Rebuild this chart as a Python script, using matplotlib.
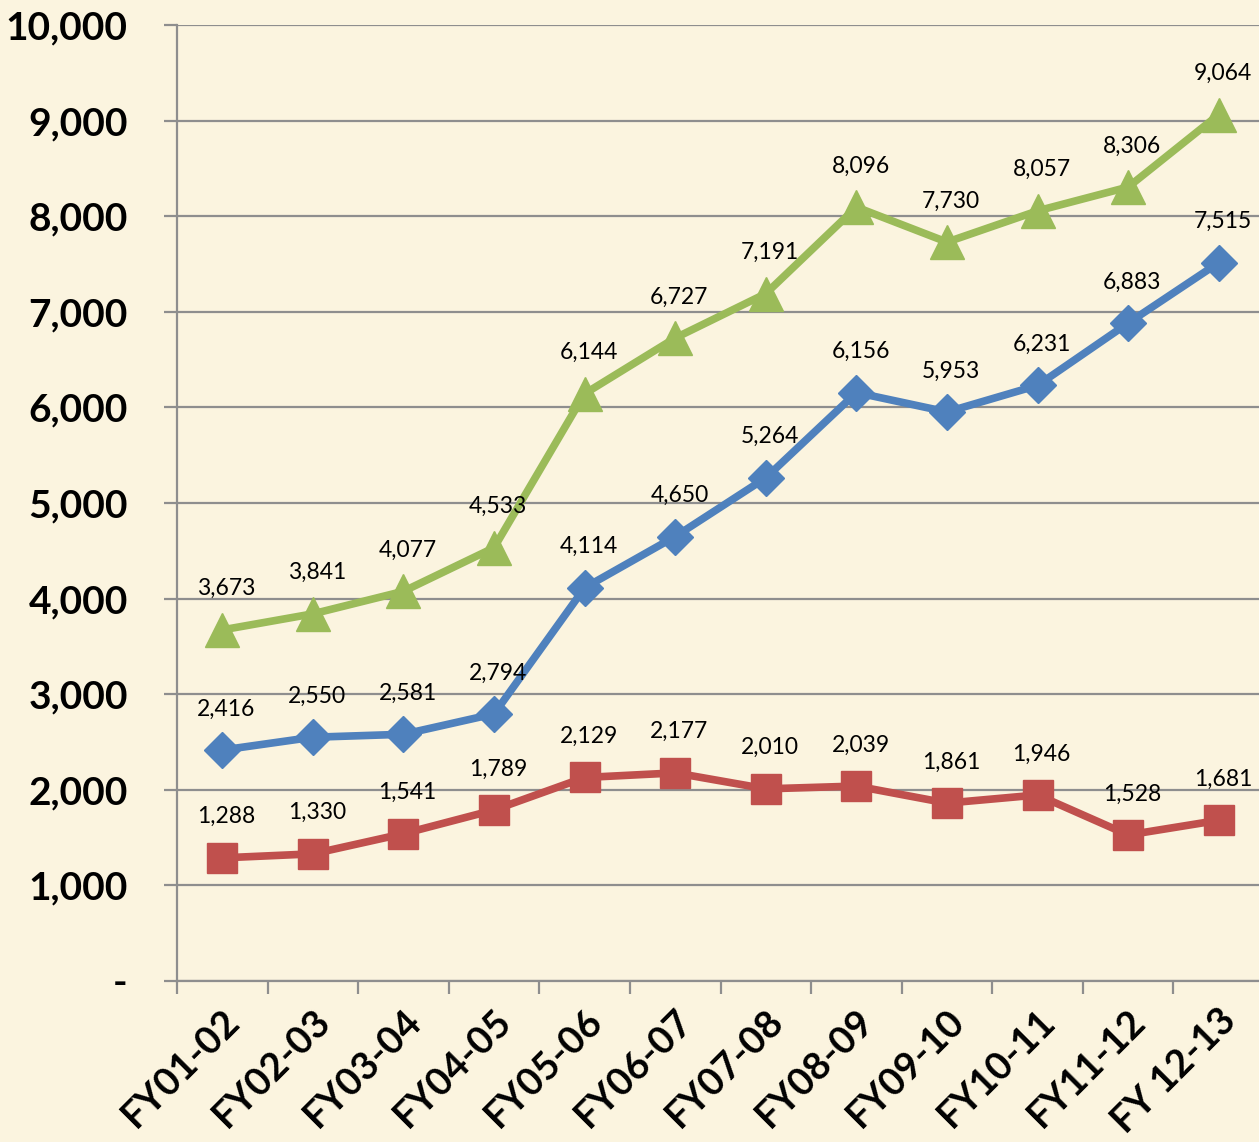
import matplotlib
matplotlib.use("Agg")
import matplotlib.pyplot as plt
from matplotlib.ticker import FixedLocator, FuncFormatter

plt.rcParams['font.family'] = ['Lato', 'DejaVu Sans']

# chart data
years = ['FY01-02', 'FY02-03', 'FY03-04', 'FY04-05', 'FY05-06', 'FY06-07',
         'FY07-08', 'FY08-09', 'FY09-10', 'FY10-11', 'FY11-12', 'FY 12-13']
blue_vals = [2416, 2550, 2581, 2794, 4114, 4650, 5264, 6156, 5953, 6231, 6883, 7515]
red_vals = [1288, 1330, 1541, 1789, 2129, 2177, 2010, 2039, 1861, 1946, 1528, 1681]
green_vals = [3673, 3841, 4077, 4533, 6144, 6727, 7191, 8096, 7730, 8057, 8306, 9064]

bg = '#FBF4DF'
grid_col = '#8E8E8E'

fig = plt.figure(figsize=(12.59, 11.42), dpi=100, facecolor=bg)
ax = fig.add_axes([0.1406, 0.141, 0.8634, 0.837])
ax.set_facecolor(bg)

x = list(range(len(years)))

series = [
    (green_vals, '#9BBB59', '^', 24),
    (blue_vals, '#4F81BD', 'D', 18),
    (red_vals, '#C0504D', 's', 21),
]
for vals, col, mk, ms in series:
    ax.plot(x, vals, color=col, lw=5.5, marker=mk, markersize=ms,
            markeredgecolor=col, zorder=3, solid_joinstyle='round')
    for xi, v in zip(x, vals):
        ax.annotate(f'{v:,}', (xi, v), xytext=(3, 22), textcoords='offset points',
                    ha='center', va='bottom', fontsize=16.5, color='black', zorder=4)

ax.set_xlim(-0.5, 11.5)
ax.set_ylim(0, 10000)

ax.yaxis.set_major_locator(FixedLocator(range(0, 10001, 1000)))
ax.yaxis.set_major_formatter(FuncFormatter(lambda v, p: '-' if v == 0 else f'{int(v):,}'))
ax.grid(axis='y', color=grid_col, lw=1.6, zorder=1)
ax.tick_params(axis='y', length=9.5, width=1.6, color=grid_col, pad=26,
               labelsize=28)
for lab in ax.get_yticklabels():
    lab.set_fontweight('bold')

ax.set_xticks(x)
ax.set_xticklabels(years, rotation=45, ha='right', rotation_mode='anchor',
                   fontsize=27.5, fontweight='bold')
ax.set_xticks([i - 0.5 for i in range(len(years) + 1)], minor=True)
ax.tick_params(axis='x', which='major', length=0, pad=16)
ax.tick_params(axis='x', which='minor', length=9.5, width=1.6, color=grid_col)

for s in ['top', 'right']:
    ax.spines[s].set_visible(False)
for s in ['left', 'bottom']:
    ax.spines[s].set_color(grid_col)
    ax.spines[s].set_linewidth(1.6)

fig.savefig('out.png', dpi=100, facecolor=bg)
